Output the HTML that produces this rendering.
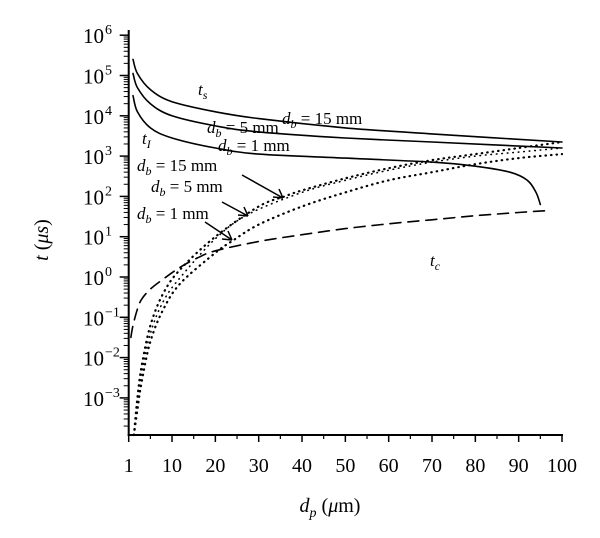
<!DOCTYPE html>
<html><head><meta charset="utf-8"><style>
body{margin:0;background:#fff}
svg{display:block;font-family:"Liberation Serif",serif}
</style></head><body>
<svg id="chart" width="600" height="538" viewBox="0 0 600 538">
<g id="axes"></g>
<g id="series"></g>
<g id="annot" font-style="italic" font-size="17" fill="#000">
<text x="198" y="95">t<tspan font-size="12" dy="4">s</tspan></text>
<text x="142" y="144">t<tspan font-size="12" dy="4">I</tspan></text>
<text x="430" y="266">t<tspan font-size="12" dy="4">c</tspan></text>
<text x="282" y="124">d<tspan font-size="12" dy="4">b</tspan><tspan dy="-4" font-style="normal"> = 15 mm</tspan></text>
<text x="207" y="133">d<tspan font-size="12" dy="4">b</tspan><tspan dy="-4" font-style="normal"> = 5 mm</tspan></text>
<text x="218" y="151">d<tspan font-size="12" dy="4">b</tspan><tspan dy="-4" font-style="normal"> = 1 mm</tspan></text>
<text x="137" y="171">d<tspan font-size="12" dy="4">b</tspan><tspan dy="-4" font-style="normal"> = 15 mm</tspan></text>
<text x="151" y="192">d<tspan font-size="12" dy="4">b</tspan><tspan dy="-4" font-style="normal"> = 5 mm</tspan></text>
<text x="137" y="219">d<tspan font-size="12" dy="4">b</tspan><tspan dy="-4" font-style="normal"> = 1 mm</tspan></text>
</g>
<g stroke="#000" stroke-width="1.5" fill="none">
<path d="M242 175 L283 198 M283 198 l-10 -1 M283 198 l-4 -9"/>
<path d="M222 202 L248 216 M248 216 l-10 -1 M248 216 l-4 -9"/>
<path d="M205 222 L232 240 M232 240 l-10 -1 M232 240 l-4 -9"/>
</g>
<text x="330" y="512" font-size="20" text-anchor="middle"><tspan font-style="italic">d</tspan><tspan font-style="italic" font-size="14" dy="5">p</tspan><tspan dy="-5"> (</tspan><tspan font-style="italic">μ</tspan>m)</text>
<text transform="translate(48,240) rotate(-90)" font-size="20" text-anchor="middle"><tspan font-style="italic">t</tspan> (<tspan font-style="italic">μs</tspan>)</text>
</svg>
<script>
const xTicks=[0,10,20,30,40,50,60,70,80,90,100];
const xTickLabels=["1","10","20","30","40","50","60","70","80","90","100"];
const yDecades=[-3,-2,-1,0,1,2,3,4,5,6];
const tsX=[1,2,5,10,20,30,50,70,100];
const ts15=[5.4,5.05,4.65,4.35,4.1,3.93,3.7,3.55,3.35];
const ts5=[5.05,4.7,4.3,4.0,3.75,3.6,3.45,3.35,3.2];
const ts1X=[1,2,5,10,20,30,50,70,80,88,92,94,95];
const ts1=[4.5,4.1,3.7,3.45,3.2,3.05,2.95,2.85,2.75,2.6,2.4,2.1,1.8];
const dot15X=[1.2,2,3,5,8,12,20,30,36,40,50,60,70,80,90,100];
const dot15=[-4,-3,-2.2,-1.2,-0.4,0.2,1.0,1.75,2.0,2.15,2.45,2.7,2.9,3.05,3.2,3.35];
const dot5X=[1.2,2,3,5,8,12,20,27.5,40,50,60,70,80,90,100];
const dot5=[-4,-3.2,-2.4,-1.4,-0.6,0,0.95,1.55,2.1,2.4,2.65,2.85,3.0,3.1,3.2];
const dot1X=[1.2,2,3,5,8,12,20,24,30,40,50,60,70,80,90,100];
const dot1=[-4,-3.3,-2.6,-1.6,-0.8,-0.15,0.6,0.9,1.3,1.75,2.1,2.4,2.6,2.8,2.95,3.05];
const tcX=[0.5,1,2,3,5,8,12,16,20,30,40,50,60,70,80,90,97];
const tc=[-1.5,-1.2,-0.8,-0.55,-0.3,-0.05,0.25,0.48,0.65,0.88,1.05,1.2,1.32,1.42,1.52,1.6,1.65];

const X0=128.7,XS=4.333,Y0=277,YS=40.3,YB=435,YT=30;
const xs=v=>X0+XS*v;
const ys=l=>Math.min(YB,Y0-YS*l);
const NS='http://www.w3.org/2000/svg';
const ax=document.getElementById('axes'),se=document.getElementById('series');
function mk(tag,at,parent){const e=document.createElementNS(NS,tag);for(const k in at)e.setAttribute(k,at[k]);parent.appendChild(e);return e;}
let a=mk('line',{x1:X0,y1:YT,x2:X0,y2:YB+1,stroke:'#000','stroke-width':2},ax);


a=mk('line',{x1:X0-1,y1:YB,x2:xs(100)+1,y2:YB,stroke:'#000','stroke-width':2},ax);


xTicks.forEach((v,i)=>{
  let t=mk('line',{x1:xs(v),y1:YB,x2:xs(v),y2:YB+7,stroke:'#000','stroke-width':1.5},ax);
  
  
  if(i<xTicks.length-1){let m=mk('line',{x1:xs(v+5),y1:YB,x2:xs(v+5),y2:YB+4,stroke:'#000','stroke-width':1.2},ax);
  
  }
  let tx=mk('text',{x:xs(v),y:472,'font-size':20,'text-anchor':'middle'},ax);
  tx.textContent=xTickLabels[i];
  
  
});
yDecades.forEach(d=>{
  let t=mk('line',{x1:X0-9,y1:ys(d),x2:X0,y2:ys(d),stroke:'#000','stroke-width':1.5},ax);
  
  
  for(let k=2;k<=9;k++){const l=d-1+Math.log10(k);if(Y0-YS*l>YB)continue;
    let m=mk('line',{x1:X0-5,y1:ys(l),x2:X0,y2:ys(l),stroke:'#000','stroke-width':1},ax);
    
    }
  let tx=mk('text',{x:104,y:ys(d)+8,'font-size':21,'text-anchor':'end'},ax);
  tx.textContent='10';
  
  
  let sp=mk('text',{x:105,y:ys(d)-1,'font-size':14,'text-anchor':'start'},ax);
  sp.textContent=String(d).replace('-','−');
  
  
});
function line(X,L,name,dash,w){
  const P=X.map((v,i)=>[xs(v),ys(L[i])]);
  let d='M'+P[0][0].toFixed(1)+' '+P[0][1].toFixed(1);
  for(let i=0;i<P.length-1;i++){
    const p0=P[Math.max(0,i-1)],p1=P[i],p2=P[i+1],p3=P[Math.min(P.length-1,i+2)];
    const c1=[p1[0]+(p2[0]-p0[0])/6,p1[1]+(p2[1]-p0[1])/6];
    const c2=[p2[0]-(p3[0]-p1[0])/6,p2[1]-(p3[1]-p1[1])/6];
    d+=' C'+c1[0].toFixed(1)+' '+c1[1].toFixed(1)+' '+c2[0].toFixed(1)+' '+c2[1].toFixed(1)+' '+p2[0].toFixed(1)+' '+p2[1].toFixed(1);
  }
  const p=mk('path',{d:d,fill:'none',stroke:'#000','stroke-width':w||1.6,'stroke-dasharray':dash||'none','stroke-linecap':'round'},se);
  
  
}
line(tsX,ts15,'ts-15mm-line');
line(tsX,ts5,'ts-5mm-line');
line(ts1X,ts1,'ts-1mm-line');
line(dot15X,dot15,'dotted-15mm-line','0.5 5',2.2);
line(dot5X,dot5,'dotted-5mm-line','0.5 5',1.6);
line(dot1X,dot1,'dotted-1mm-line','0.5 5',2.2);
line(tcX,tc,'tc-dashed-line','11 7',1.6);
</script>
</body></html>
